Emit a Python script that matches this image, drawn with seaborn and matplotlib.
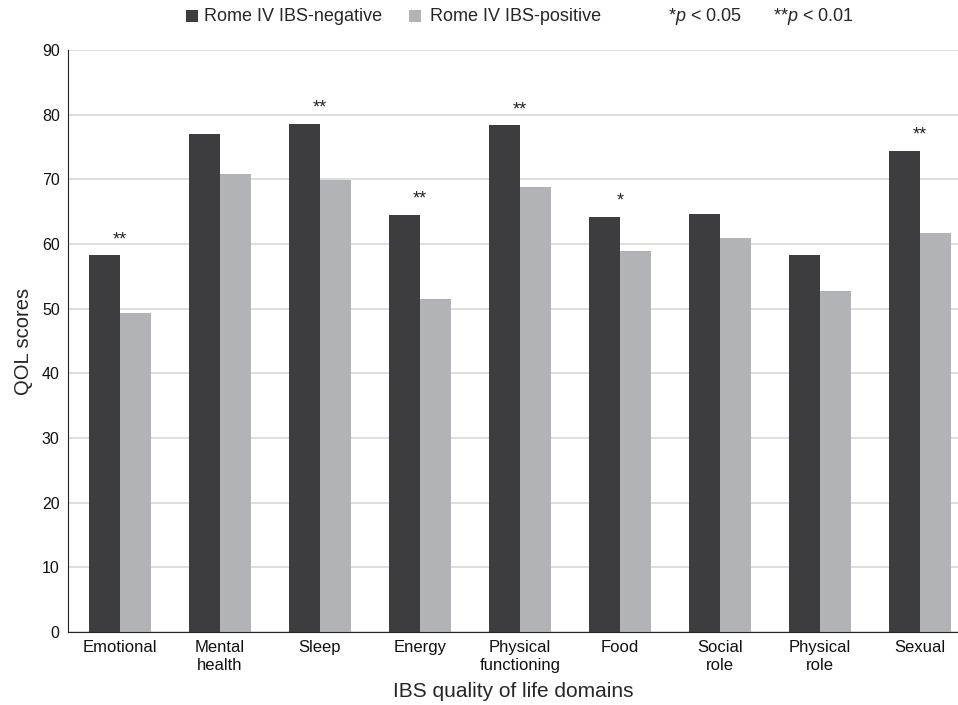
import pandas as pd
import numpy as np
import matplotlib
matplotlib.use("Agg")
import matplotlib.pyplot as plt
from matplotlib.patches import Rectangle
import seaborn as sns

# Values
domains = ["Emotional", "Mental\nhealth", "Sleep", "Energy", "Physical\nfunctioning",
           "Food", "Social\nrole", "Physical\nrole", "Sexual"]
ibs_negative = [58.3, 77.0, 78.6, 64.5, 78.4, 64.2, 64.6, 58.3, 74.4]
ibs_positive = [49.3, 70.8, 69.9, 51.5, 68.8, 58.9, 60.9, 52.7, 61.7]
significance = ["**", "", "**", "**", "**", "*", "", "", "**"]
groups = ["Rome IV IBS-negative", "Rome IV IBS-positive"]

df = pd.DataFrame({
    "domain": domains * 2,
    "score": ibs_negative + ibs_positive,
    "group": [groups[0]] * len(domains) + [groups[1]] * len(domains),
})

sns.set_style("white")
plt.rcParams["font.family"] = ["Liberation Sans", "DejaVu Sans"]
plt.rcParams["mathtext.fontset"] = "custom"
plt.rcParams["mathtext.rm"] = "Liberation Sans"
plt.rcParams["mathtext.it"] = "Liberation Sans:italic"

fig = plt.figure(figsize=(9.58, 7.05), dpi=100)
ax = fig.add_axes([0.071, 0.1035, 0.929, 0.8255])

palette = {groups[0]: "#3d3d3f", groups[1]: "#b1b3b6"}
sns.barplot(data=df, x="domain", y="score", hue="group", palette=palette,
            width=0.62, gap=0, saturation=1, ax=ax, legend=False, zorder=2)
for p in ax.patches:
    p.set_edgecolor("none")

ax.set_ylim(0, 90)
ax.set_yticks(np.arange(0, 91, 10))
ax.set_xlim(-0.52, 8.38)
ax.yaxis.grid(True, color="#d9d9d9", linewidth=1.2, zorder=0)
ax.set_axisbelow(True)
for side in ["top", "right"]:
    ax.spines[side].set_visible(False)
ax.spines["left"].set_color("#222222")
ax.spines["bottom"].set_color("#222222")
ax.tick_params(axis="both", length=0, colors="#111111")
ax.tick_params(axis="y", labelsize=11.5, pad=6)
ax.tick_params(axis="x", labelsize=12, pad=6)

ax.set_xlabel("IBS quality of life domains", fontsize=15, labelpad=7)
ax.set_ylabel("QOL scores", fontsize=14.5, labelpad=6)

# significance stars above the group pairs
for i, mark in enumerate(significance):
    if mark:
        ax.text(i, ibs_negative[i] + 1.7, mark, ha="center", va="baseline", fontsize=13)

# legend row at the top of the figure
for x0, xt, g in [(0.194, 0.213, groups[0]), (0.427, 0.449, groups[1])]:
    fig.patches.append(Rectangle((x0, 0.9688), 0.0125, 0.017, transform=fig.transFigure,
                                 facecolor=palette[g], edgecolor="none"))
    fig.text(xt, 0.976, g, fontsize=13, va="center", ha="left")
fig.text(0.697, 0.976, r"*$\mathit{p}$ < 0.05", fontsize=13, va="center", ha="left")
fig.text(0.807, 0.976, r"**$\mathit{p}$ < 0.01", fontsize=13, va="center", ha="left")

fig.savefig("out.png", dpi=100)
